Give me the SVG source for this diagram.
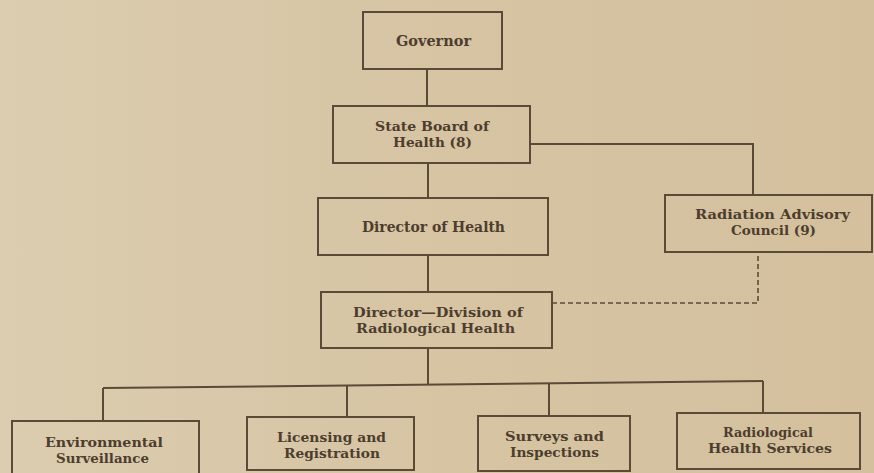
<svg xmlns="http://www.w3.org/2000/svg" width="874" height="473" viewBox="0 0 874 473">
  <defs>
    <linearGradient id="paper" x1="0" y1="0" x2="1" y2="0">
      <stop offset="0" stop-color="#dccdb0"/>
      <stop offset="0.5" stop-color="#d6c4a3"/>
      <stop offset="1" stop-color="#d4c09d"/>
    </linearGradient>
  </defs>
  <style>
    .box { fill: none; stroke: #5b4a38; stroke-width: 2; }
    .line { fill: none; stroke: #5b4a38; stroke-width: 2; }
    .dash { fill: none; stroke: #5b4a38; stroke-width: 1.6; stroke-dasharray: 5 3; }
    .t { font-family: "DejaVu Serif", "Liberation Serif", serif; font-size: 14.5px; font-weight: bold; fill: #4d3d2d; text-anchor: middle; }
    .t2 { font-size: 13.5px; }
  </style>
  <rect x="0" y="0" width="874" height="473" fill="url(#paper)"/>

  <g id="connectors">
    <path class="line" d="M427 69 V106"/>
    <path class="line" d="M428 163 V198"/>
    <path class="line" d="M530 144 H753 V195"/>
    <path class="line" d="M428 255 V292"/>
    <path class="line" d="M428 348 V384"/>
    <path class="line" d="M103 388 L763 381"/>
    <path class="line" d="M103 388 V421"/>
    <path class="line" d="M347 386 V417"/>
    <path class="line" d="M549 384 V416"/>
    <path class="line" d="M763 381 V413"/>
    <path class="dash" d="M552 303 H758 V253"/>
  </g>

  <g id="governor">
    <rect class="box" x="363" y="12" width="139" height="57"/>
    <text class="t" x="433.5" y="46" textLength="75" lengthAdjust="spacingAndGlyphs">Governor</text>
  </g>

  <g id="state-board">
    <rect class="box" x="333" y="106" width="197" height="57"/>
    <text class="t t2" x="432" y="131" textLength="114" lengthAdjust="spacingAndGlyphs">State Board of</text>
    <text class="t t2" x="432.5" y="147" textLength="79" lengthAdjust="spacingAndGlyphs">Health (8)</text>
  </g>

  <g id="director-health">
    <rect class="box" x="318" y="198" width="230" height="57"/>
    <text class="t" x="433.5" y="232" textLength="143" lengthAdjust="spacingAndGlyphs">Director of Health</text>
  </g>

  <g id="radiation-council">
    <rect class="box" x="665" y="195" width="207" height="57"/>
    <text class="t t2" x="772.5" y="219" textLength="155" lengthAdjust="spacingAndGlyphs">Radiation Advisory</text>
    <text class="t t2" x="773.5" y="235" textLength="85" lengthAdjust="spacingAndGlyphs">Council (9)</text>
  </g>

  <g id="director-division">
    <rect class="box" x="321" y="292" width="231" height="56"/>
    <text class="t t2" x="438" y="317" textLength="170" lengthAdjust="spacingAndGlyphs">Director—Division of</text>
    <text class="t t2" x="435.5" y="333" textLength="159" lengthAdjust="spacingAndGlyphs">Radiological Health</text>
  </g>

  <g id="environmental">
    <rect class="box" x="12" y="421" width="187" height="62"/>
    <text class="t t2" x="104" y="447" textLength="118" lengthAdjust="spacingAndGlyphs">Environmental</text>
    <text class="t t2" x="102.5" y="463" textLength="93" lengthAdjust="spacingAndGlyphs">Surveillance</text>
  </g>

  <g id="licensing">
    <rect class="box" x="247" y="417" width="167" height="53"/>
    <text class="t t2" x="331.5" y="442" textLength="109" lengthAdjust="spacingAndGlyphs">Licensing and</text>
    <text class="t t2" x="332" y="458" textLength="96" lengthAdjust="spacingAndGlyphs">Registration</text>
  </g>

  <g id="surveys">
    <rect class="box" x="478" y="416" width="152" height="55"/>
    <text class="t t2" x="554.5" y="441" textLength="99" lengthAdjust="spacingAndGlyphs">Surveys and</text>
    <text class="t t2" x="554.5" y="457" textLength="89" lengthAdjust="spacingAndGlyphs">Inspections</text>
  </g>

  <g id="radiological-services">
    <rect class="box" x="677" y="413" width="183" height="56"/>
    <text class="t t2" x="768" y="437" textLength="90" lengthAdjust="spacingAndGlyphs">Radiological</text>
    <text class="t t2" x="770" y="453" textLength="124" lengthAdjust="spacingAndGlyphs">Health Services</text>
  </g>
</svg>
